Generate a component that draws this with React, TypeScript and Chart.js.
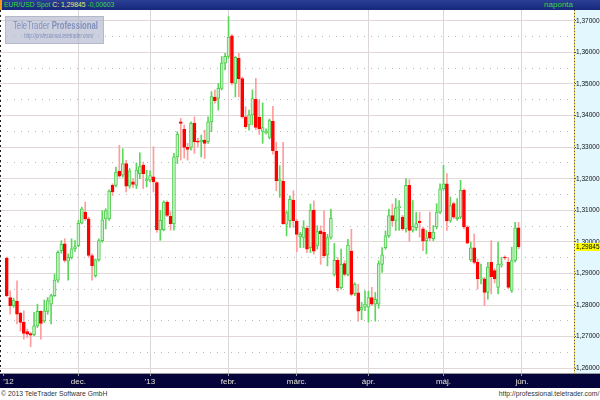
import React, { useEffect, useRef } from "react";
import { Chart, registerables } from "chart.js";

Chart.register(...registerables);

// trading-day index of the first candle (day 0 = 1 Nov 2012)
const firstDay = 1;

const opens = [
  1.2949, 1.2824, 1.2798, 1.2812, 1.2774, 1.2745, 1.2716, 1.271, 1.2706, 1.2734,
  1.278, 1.275, 1.278, 1.2803, 1.283, 1.2879, 1.2972, 1.2994, 1.2939, 1.2951,
  1.2978, 1.2988, 1.3059, 1.3094, 1.3073, 1.2957, 1.2893, 1.2943, 1.3004, 1.3073,
  1.3073, 1.3179, 1.3179, 1.3223, 1.3211, 1.3248, 1.3176, 1.319, 1.3179, 1.3216,
  1.3243, 1.3193, 1.3195, 1.3206, 1.3188, 1.3037, 1.3039, 1.3126, 1.3081, 1.3058,
  1.3269, 1.338, 1.3356, 1.3299, 1.3299, 1.3375, 1.3319, 1.3317, 1.3322, 1.3317,
  1.338, 1.3458, 1.3454, 1.3486, 1.3566, 1.3587, 1.3652, 1.3502, 1.3581, 1.3517,
  1.3396, 1.337, 1.3402, 1.3451, 1.3395, 1.335, 1.3345, 1.3331, 1.3382, 1.3287,
  1.3194, 1.3192, 1.3056, 1.3067, 1.3132, 1.3065, 1.3016, 1.3014, 1.3043, 1.2982,
  1.3101, 1.2987, 1.3035, 1.303, 1.2959, 1.3014, 1.2897, 1.2942, 1.2855, 1.2931,
  1.2897, 1.2971, 1.2836, 1.2839, 1.2785, 1.2793, 1.2793, 1.2824, 1.2803, 1.2803,
  1.2929, 1.2982, 1.3019, 1.3083, 1.3068, 1.3108, 1.3078, 1.3041, 1.3179, 1.3036,
  1.3045, 1.3066, 1.3041, 1.3004, 1.303, 1.301, 1.3047, 1.3094, 1.3168, 1.3184,
  1.3068, 1.3121, 1.3073, 1.3078, 1.3163, 1.3047, 1.2943, 1.2981, 1.2935, 1.2883,
  1.2883, 1.284, 1.2935, 1.2909, 1.2856, 1.2927, 1.2951, 1.2935, 1.2846, 1.2941,
  1.30448,
];

const highs = [
  1.2952, 1.2845, 1.2822, 1.2877, 1.2777, 1.2782, 1.2724, 1.2713, 1.2777, 1.2803,
  1.2782, 1.2816, 1.2824, 1.2835, 1.2898, 1.2972, 1.3004, 1.301, 1.2962, 1.301,
  1.3004, 1.3068, 1.311, 1.3126, 1.3078, 1.2962, 1.2946, 1.301, 1.3099, 1.3105,
  1.3165, 1.3184, 1.3237, 1.3306, 1.3295, 1.3258, 1.3232, 1.32, 1.325, 1.3282,
  1.3253, 1.3227, 1.3225, 1.3301, 1.319, 1.31, 1.313, 1.313, 1.3095, 1.328,
  1.3349, 1.3391, 1.337, 1.3312, 1.338, 1.3396, 1.3328, 1.3338, 1.3354, 1.3396,
  1.3476, 1.3481, 1.3502, 1.3587, 1.3597, 1.3713, 1.3656, 1.3587, 1.3597, 1.3522,
  1.3428, 1.3417, 1.3481, 1.3518, 1.3448, 1.344, 1.3358, 1.3389, 1.3429, 1.3315,
  1.3241, 1.3315, 1.3098, 1.3146, 1.3162, 1.3072, 1.303, 1.3067, 1.3051, 1.312,
  1.313, 1.3051, 1.3051, 1.3098, 1.3024, 1.3104, 1.2995, 1.295, 1.2977, 1.294,
  1.3008, 1.304, 1.2871, 1.2866, 1.2809, 1.2845, 1.2844, 1.2856, 1.284, 1.294,
  1.2982, 1.3035, 1.3104, 1.312, 1.3137, 1.3131, 1.3084, 1.32, 1.3197, 1.3131,
  1.3094, 1.3094, 1.3047, 1.3036, 1.3094, 1.3052, 1.3121, 1.3184, 1.3242, 1.3216,
  1.3142, 1.3126, 1.3137, 1.3195, 1.3168, 1.3052, 1.2999, 1.3025, 1.2946, 1.293,
  1.2888, 1.2935, 1.3004, 1.2915, 1.2999, 1.2951, 1.2956, 1.2951, 1.2983, 1.3062,
  1.3062,
];

const lows = [
  1.2826, 1.2771, 1.2793, 1.274, 1.2718, 1.2692, 1.2697, 1.2668, 1.2703, 1.2729,
  1.2692, 1.2745, 1.2771, 1.274, 1.2827, 1.2872, 1.2964, 1.2936, 1.2879, 1.2946,
  1.297, 1.2985, 1.3057, 1.3068, 1.2951, 1.2879, 1.2888, 1.2939, 1.2999, 1.3041,
  1.3068, 1.3147, 1.3174, 1.3205, 1.3205, 1.3158, 1.317, 1.3172, 1.3169, 1.32,
  1.3169, 1.3174, 1.319, 1.3158, 1.303, 1.3005, 1.3035, 1.308, 1.3037, 1.3037,
  1.3248, 1.3259, 1.3265, 1.3259, 1.329, 1.328, 1.3301, 1.3269, 1.3264, 1.3312,
  1.3349, 1.3439, 1.3417, 1.3481, 1.3544, 1.3581, 1.3497, 1.3459, 1.3459, 1.3392,
  1.3359, 1.3354, 1.337, 1.3355, 1.334, 1.3312, 1.3342, 1.3326, 1.3278, 1.3162,
  1.3141, 1.3055, 1.3019, 1.3046, 1.3046, 1.2969, 1.2982, 1.2982, 1.2966, 1.2966,
  1.2961, 1.2977, 1.2929, 1.295, 1.2924, 1.3009, 1.2892, 1.2844, 1.285, 1.2892,
  1.2892, 1.2829, 1.283, 1.2749, 1.2754, 1.2782, 1.2746, 1.2798, 1.2749, 1.279,
  1.2903, 1.2977, 1.3014, 1.3051, 1.3036, 1.3036, 1.3036, 1.3031, 1.3002, 1.3031,
  1.3036, 1.3015, 1.2972, 1.2962, 1.3004, 1.3004, 1.3041, 1.3089, 1.3163, 1.3036,
  1.3062, 1.3073, 1.3068, 1.3073, 1.3041, 1.2994, 1.2938, 1.293, 1.2851, 1.2867,
  1.2798, 1.2819, 1.2835, 1.287, 1.2835, 1.292, 1.2944, 1.2851, 1.284, 1.2936,
  1.2978,
];

const closes = [
  1.283, 1.2798, 1.2816, 1.2771, 1.2745, 1.271, 1.2708, 1.2705, 1.2734, 1.278,
  1.2742, 1.2782, 1.2814, 1.283, 1.2879, 1.2967, 1.2992, 1.2941, 1.2951, 1.2978,
  1.2985, 1.3059, 1.3105, 1.3073, 1.2957, 1.2925, 1.2943, 1.3004, 1.307, 1.3099,
  1.3161, 1.3158, 1.3221, 1.3208, 1.3248, 1.3176, 1.3225, 1.3182, 1.3227, 1.3238,
  1.3216, 1.3197, 1.321, 1.319, 1.3039, 1.3068, 1.3126, 1.3084, 1.3058, 1.3269,
  1.3341, 1.3375, 1.3299, 1.3293, 1.3375, 1.3317, 1.3316, 1.3322, 1.3312, 1.338,
  1.346, 1.3447, 1.3486, 1.3566, 1.3587, 1.3648, 1.3503, 1.3584, 1.3517, 1.3396,
  1.3365, 1.3402, 1.3454, 1.3362, 1.3358, 1.3362, 1.335, 1.3384, 1.3289, 1.3194,
  1.3196, 1.3058, 1.3093, 1.3135, 1.3067, 1.3024, 1.3024, 1.3045, 1.2977, 1.3101,
  1.2971, 1.3033, 1.3026, 1.2956, 1.3014, 1.3075, 1.2942, 1.2855, 1.2929, 1.2897,
  1.299, 1.2834, 1.2866, 1.2781, 1.2793, 1.2803, 1.2824, 1.2803, 1.2818, 1.2931,
  1.2959, 1.3019, 1.3083, 1.3067, 1.3108, 1.3112, 1.3041, 1.3179, 1.3036, 1.3049,
  1.3058, 1.3061, 1.3002, 1.3013, 1.3012, 1.3031, 1.3094, 1.3168, 1.3184, 1.3066,
  1.3115, 1.3078, 1.3078, 1.3163, 1.3047, 1.2996, 1.2981, 1.2935, 1.2883, 1.2886,
  1.284, 1.292, 1.289, 1.2883, 1.293, 1.293, 1.2949, 1.2856, 1.2941, 1.30448,
  1.29845,
];

// month ticks on the trading-day axis
const monthTickDays = [0, 22, 43, 66, 86, 107, 129, 152];
const monthTickLabels = ["'12", "dec.", "'13", "febr.", "márc.", "ápr.", "máj.", "jún."];

const priceTicks = [1.26, 1.27, 1.28, 1.29, 1.3, 1.31, 1.32, 1.33, 1.34, 1.35, 1.36, 1.37];
const halfTicks = [1.265, 1.275, 1.285, 1.295, 1.305, 1.315, 1.325, 1.335, 1.345, 1.355, 1.365];

const yMin = 1.2585;
const yMax = 1.3734;
const xMin = -0.98;
const xMax = 167.25;

const FONT = '"Liberation Sans", Arial, sans-serif';
const fmt = (v: number) => v.toFixed(5).replace(".", ",");

export default function App() {
  const ref = useRef<HTMLCanvasElement>(null);
  const n = closes.length;
  const last = closes[n - 1];
  const change = last - closes[n - 2];

  useEffect(() => {
    const canvas = ref.current as HTMLCanvasElement;
    const days = closes.map((_, i) => firstDay + i);
    const up = closes.map((c, i) => c >= opens[i]);
    const wickData = days.map((d, i) => ({ x: d, y: [lows[i], highs[i]] }));
    const bodyData = days.map((d, i) => ({ x: d, y: [opens[i], closes[i]] }));

    const bgPlugin = {
      id: "bg",
      beforeDraw(chart: any) {
        const { ctx, chartArea: a, width, height } = chart;
        ctx.save();
        ctx.fillStyle = "#ffffff";
        ctx.fillRect(0, 0, width, height);
        ctx.fillStyle = "#e2f8fe";
        ctx.fillRect(a.right, a.top, width - a.right, a.bottom - a.top);
        ctx.fillStyle = "#04043a";
        ctx.fillRect(0, a.bottom, width, height - a.bottom);
        ctx.restore();
      },
      afterDraw(chart: any) {
        const { ctx, chartArea: a, width } = chart;
        const ys = chart.scales.y;
        ctx.save();
        ctx.lineWidth = 1;
        ctx.strokeStyle = "#222";
        ctx.setLineDash([2, 3]);
        ctx.beginPath();
        ctx.moveTo(0.5, a.top);
        ctx.lineTo(0.5, a.bottom);
        ctx.stroke();
        ctx.setLineDash([]);
        ctx.strokeStyle = "#e6d060";
        ctx.beginPath();
        ctx.moveTo(a.right + 0.5, a.top);
        ctx.lineTo(a.right + 0.5, a.bottom);
        ctx.stroke();
        ctx.setLineDash([1, 2]);
        ctx.strokeStyle = "#555";
        ctx.beginPath();
        ctx.moveTo(a.right + 0.5, a.top);
        ctx.lineTo(a.right + 0.5, a.bottom);
        ctx.stroke();
        ctx.setLineDash([]);
        ctx.strokeStyle = "#9a9a9a";
        ctx.beginPath();
        ctx.moveTo(0, a.bottom + 0.5);
        ctx.lineTo(width, a.bottom + 0.5);
        ctx.stroke();
        const py = ys.getPixelForValue(last);
        ctx.fillStyle = "#ffff00";
        ctx.fillRect(a.right + 2, Math.round(py) - 4, width - a.right - 2, 8);
        ctx.fillStyle = "#000";
        ctx.font = `6.5px ${FONT}`;
        ctx.textBaseline = "middle";
        ctx.fillText(fmt(last), a.right + 2, Math.round(py));
        ctx.restore();
      },
    };

    const chart = new Chart(canvas, {
      type: "bar",
      data: {
        datasets: [
          {
            data: bodyData as any,
            backgroundColor: (c: any) => (up[c.dataIndex] ? "#c8f2c8" : "#ff0000"),
            borderColor: (c: any) => (up[c.dataIndex] ? "#4ccc4c" : "#ff0000"),
            borderWidth: 1,
            borderSkipped: false,
            barThickness: 3,
            minBarLength: 1,
            grouped: false,
            order: 1,
          } as any,
          {
            data: wickData as any,
            backgroundColor: (c: any) => (up[c.dataIndex] ? "#5ad85a" : "#ff9c9c"),
            borderWidth: 0,
            barThickness: 1,
            grouped: false,
            order: 2,
          } as any,
        ],
      },
      options: {
        responsive: false,
        maintainAspectRatio: false,
        animation: false,
        devicePixelRatio: 1,
        events: [],
        layout: { padding: 0 },
        plugins: { legend: { display: false }, tooltip: { enabled: false }, title: { display: false } },
        scales: {
          x: {
            type: "linear",
            position: "bottom",
            min: xMin,
            max: xMax,
            offset: false,
            afterBuildTicks: (s: any) => {
              s.ticks = [...monthTickDays, xMax].map((v) => ({ value: v }));
            },
            afterFit: (s: any) => {
              s.height = 15;
              s.paddingLeft = 0;
              s.paddingRight = 0;
            },
            ticks: {
              autoSkip: false,
              maxRotation: 0,
              align: "inner",
              color: "#e4e4d4",
              font: { family: FONT, size: 8 },
              padding: 1,
              callback: (v: any) => {
                const k = monthTickDays.indexOf(Number(v));
                return k >= 0 ? monthTickLabels[k] : "";
              },
            },
            grid: {
              offset: false,
              color: (c: any) =>
                c.index === 0 || c.index === monthTickDays.length ? "rgba(0,0,0,0)" : "#ddd6d8",
              tickLength: 3,
              tickColor: (c: any) => (c.index === monthTickDays.length ? "rgba(0,0,0,0)" : "#9a9a9a"),
            },
            border: { display: false },
          } as any,
          y: {
            type: "linear",
            position: "right",
            min: yMin,
            max: yMax,
            beginAtZero: false,
            afterBuildTicks: (s: any) => {
              s.ticks = priceTicks.map((v) => ({ value: v }));
            },
            afterFit: (s: any) => {
              s.width = 26;
              s.paddingTop = 0;
              s.paddingBottom = 0;
            },
            ticks: {
              autoSkip: false,
              color: "#111",
              font: { family: FONT, size: 6.5 },
              padding: 0,
              callback: (v: any) => fmt(Number(v)),
            },
            grid: { color: "#e2d8da", tickLength: 2, tickColor: "#555" },
            border: { display: false },
          } as any,
          y2: {
            type: "linear",
            position: "right",
            min: yMin,
            max: yMax,
            beginAtZero: false,
            afterBuildTicks: (s: any) => {
              s.ticks = halfTicks.map((v) => ({ value: v }));
            },
            afterFit: (s: any) => {
              s.width = 0;
              s.paddingTop = 0;
              s.paddingBottom = 0;
            },
            ticks: { display: false },
            grid: { color: "#b8b8b8", drawTicks: false },
            border: { display: false, dash: [1, 6] },
          } as any,
        },
      },
      plugins: [bgPlugin],
    });
    return () => chart.destroy();
  }, []);

  return (
    <div
      style={{
        position: "fixed",
        left: 0,
        top: 0,
        width: 600,
        height: 400,
        background: "#fff",
        overflow: "hidden",
        fontFamily: FONT,
      }}
    >
      <div
        style={{
          position: "absolute",
          left: 0,
          top: 0,
          width: 600,
          height: 10,
          background: "linear-gradient(#2b3f96, #17287a)",
        }}
      >
        <div style={{ position: "absolute", left: 0, top: 0, width: 2, height: 10, background: "#f29a1c" }} />
        <span
          style={{
            position: "absolute",
            left: 4,
            top: 0,
            fontSize: 8,
            lineHeight: "10px",
            color: "#3ad83a",
            whiteSpace: "nowrap",
            transform: "scaleX(0.85)",
            transformOrigin: "left",
          }}
        >
          EUR/USD Spot <span style={{ color: "#e8f070" }}>C: {fmt(last)}</span> {fmt(change)}
        </span>
        <span
          style={{
            position: "absolute",
            right: 27,
            top: 0,
            fontSize: 8,
            lineHeight: "10px",
            color: "#3ad83a",
          }}
        >
          naponta
        </span>
      </div>
      <canvas ref={ref} width={600} height={378} style={{ position: "absolute", left: 0, top: 10, width: 600, height: 378 }} />
      <div
        style={{
          position: "absolute",
          left: 5,
          top: 16,
          width: 99,
          height: 28,
          boxSizing: "border-box",
          background: "rgba(170,176,200,0.6)",
          border: "1px solid #b4b8ca",
        }}
      >
        <div
          style={{
            position: "absolute",
            left: 7,
            top: 2,
            fontSize: 11,
            lineHeight: "13px",
            color: "#8090bc",
            whiteSpace: "nowrap",
            transform: "scaleX(0.7)",
            transformOrigin: "left",
          }}
        >
          TeleTrader <b>Professional</b>
        </div>
        <div
          style={{
            position: "absolute",
            left: 18,
            top: 15,
            fontSize: 6.5,
            lineHeight: "8px",
            fontStyle: "italic",
            color: "#8090bc",
            whiteSpace: "nowrap",
            transform: "scaleX(0.72)",
            transformOrigin: "left",
          }}
        >
          http://professional.teletrader.com/
        </div>
      </div>
      <div
        style={{
          position: "absolute",
          left: 1,
          top: 389,
          fontSize: 8,
          lineHeight: "10px",
          color: "#333",
          whiteSpace: "nowrap",
          transform: "scaleX(0.85)",
          transformOrigin: "left",
        }}
      >
        © 2013 TeleTrader Software GmbH
      </div>
      <div
        style={{
          position: "absolute",
          right: 1,
          top: 389,
          fontSize: 8,
          lineHeight: "10px",
          color: "#333",
          whiteSpace: "nowrap",
          transform: "scaleX(0.85)",
          transformOrigin: "right",
        }}
      >
        http://professional.teletrader.com/
      </div>
    </div>
  );
}
